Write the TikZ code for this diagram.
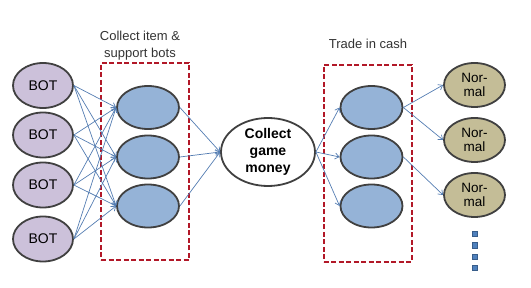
\documentclass[tikz,border=0pt]{standalone}
\usepackage{fontspec}
\setmainfont{Liberation Sans}
\usetikzlibrary{shapes.geometric,arrows.meta}
\definecolor{botfill}{RGB}{204,193,218}
\definecolor{grpfill}{RGB}{149,179,215}
\definecolor{normfill}{RGB}{196,189,151}
\definecolor{edge}{RGB}{64,64,64}
\definecolor{linkcol}{RGB}{84,125,178}
\definecolor{boxred}{RGB}{178,24,40}
\definecolor{dotfill}{RGB}{79,129,189}
\definecolor{dotedge}{RGB}{56,93,138}
\begin{document}
\begin{tikzpicture}[x=1pt,y=-1pt,
  bot/.style={ellipse, draw=edge, line width=1.8pt, fill=botfill, inner sep=0pt, minimum width=60pt, minimum height=45pt, font=\fontsize{14}{15}\selectfont},
  grp/.style={ellipse, draw=edge, line width=1.8pt, fill=grpfill, inner sep=0pt, minimum width=62pt, minimum height=43pt},
  normal/.style={ellipse, draw=edge, line width=1.8pt, fill=normfill, inner sep=0pt, minimum width=61pt, minimum height=44pt, align=center, font=\fontsize{13.5}{13.5}\selectfont},
  money/.style={ellipse, draw=edge, line width=1.8pt, fill=white, inner sep=0pt, minimum width=94pt, minimum height=68pt, align=center, font=\fontsize{14}{17}\selectfont\bfseries},
  groupbox/.style={draw=boxred, line width=2pt, dash pattern=on 5pt off 2.5pt, minimum width=88pt, minimum height=197pt, inner sep=0pt},
  caption/.style={align=center, font=\fontsize{13}{17}\selectfont, text=black!80},
  link/.style={draw=linkcol, line width=0.7pt, -{Straight Barb[length=4pt,width=6pt]}},
  dot/.style={draw=dotedge, line width=0.9pt, fill=dotfill, inner sep=0pt, minimum size=5.5pt}]
\useasboundingbox (0,0) rectangle (531,288);
% group boxes and their captions
\node[groupbox] (lbox) at (145,161.5) {};
\node[groupbox] (rbox) at (367.5,163.5) {};
\node[caption] (lcap) at (140,46) {Collect item \&\\support bots};
\node[caption] (rcap) at (368,44) {Trade in cash};
% bots
\node[bot] (b1) at (43,85.5) {BOT};
\node[bot] (b2) at (43,135) {BOT};
\node[bot] (b3) at (43,185) {BOT};
\node[bot] (b4) at (43,239) {BOT};
% item and support bots
\node[grp] (g1) at (148,107.5) {};
\node[grp] (g2) at (148,157) {};
\node[grp] (g3) at (148,206) {};
% game money
\node[money] (m) at (268,152) {Collect\\game\\money};
% trade bots
\node[grp] (t1) at (371.5,107.5) {};
\node[grp] (t2) at (371.5,157) {};
\node[grp] (t3) at (371.5,206) {};
% normal users
\node[normal] (n1) at (474.5,85) {Nor-\\mal};
\node[normal] (n2) at (474.5,140) {Nor-\\mal};
\node[normal] (n3) at (474.5,195) {Nor-\\mal};
\node[dot] (d1) at (475,234) {};
\node[dot] (d2) at (475,245.5) {};
\node[dot] (d3) at (475,257) {};
\node[dot] (d4) at (475,268) {};
% links
\draw[link] (b1.east) -- (g1.west);
\draw[link] (b1.east) -- (g2.west);
\draw[link] (b1.east) -- (g3.west);
\draw[link] (b2.east) -- (g1.west);
\draw[link] (b2.east) -- (g2.west);
\draw[link] (b2.east) -- (g3.west);
\draw[link] (b3.east) -- (g1.west);
\draw[link] (b3.east) -- (g2.west);
\draw[link] (b3.east) -- (g3.west);
\draw[link] (b4.east) -- (g1.west);
\draw[link] (b4.east) -- (g2.west);
\draw[link] (b4.east) -- (g3.west);
\draw[link] (g1.east) -- (m.west);
\draw[link] (g2.east) -- (m.west);
\draw[link] (g3.east) -- (m.west);
\draw[link] (m.east) -- (t1.west);
\draw[link] (m.east) -- (t2.west);
\draw[link] (m.east) -- (t3.west);
\draw[link] (t1.east) -- (n1.west);
\draw[link] (t1.east) -- (n2.west);
\draw[link] (t2.east) -- (n3.west);
\end{tikzpicture}
\end{document}
